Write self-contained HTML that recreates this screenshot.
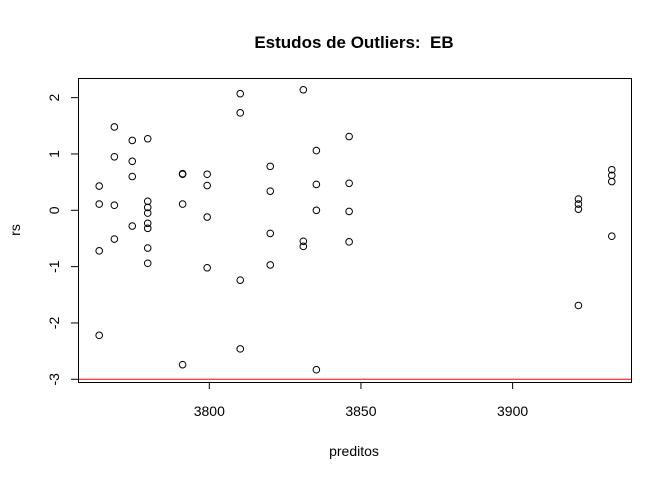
<!DOCTYPE html>
<html><head><meta charset="utf-8"><style>
body{margin:0;background:#fff;font-family:"Liberation Sans",sans-serif}
svg text{font-family:"Liberation Sans",sans-serif}
</style></head><body>
<svg id="chart" width="672" height="480">
<rect width="672" height="480" fill="#fff"/>
<text x="354" y="48" text-anchor="middle" font-weight="bold" font-size="17" style="white-space:pre">Estudos de Outliers:  EB</text>
<text x="354" y="456" text-anchor="middle" font-size="14">preditos</text>
<text x="20" y="230" text-anchor="middle" font-size="14" transform="rotate(-90 20 230)">rs</text>
<rect x="78.5" y="78.5" width="553" height="304" fill="none" stroke="#000"/>
<g id="xaxis"></g>
<g id="yaxis"></g>
<g id="marks"></g>
</svg>
<script>
const xTicks=[3800,3850,3900];
const yTicks=[-3,-2,-1,0,1,2];
const xVals=[3763.7,3763.7,3763.7,3763.7,3768.7,3768.7,3768.7,3768.7,3774.6,3774.6,3774.6,3774.6,3779.7,3779.7,3779.7,3779.7,3779.7,3779.7,3779.7,3779.7,3791.2,3791.2,3791.2,3791.2,3799.3,3799.3,3799.3,3799.3,3810.2,3810.2,3810.2,3810.2,3820.1,3820.1,3820.1,3820.1,3831,3831,3831,3835.3,3835.3,3835.3,3835.3,3846.1,3846.1,3846.1,3846.1,3921.7,3921.7,3921.7,3921.7,3932.7,3932.7,3932.7,3932.7];
const rsVals=[0.43,0.11,-0.72,-2.22,1.48,0.95,0.09,-0.51,1.24,0.87,0.60,-0.28,1.27,0.16,0.05,-0.05,-0.23,-0.32,-0.67,-0.94,0.65,0.64,0.11,-2.74,0.64,0.44,-0.12,-1.02,2.07,1.73,-1.24,-2.46,0.78,0.34,-0.41,-0.97,2.14,-0.55,-0.64,1.06,0.46,0,-2.83,1.31,0.48,-0.02,-0.56,0.2,0.11,0.02,-1.69,0.72,0.62,0.51,-0.46];
const NS='http://www.w3.org/2000/svg';
const X=v=>209.3+(v-3800)*3.033;
const Y=v=>210.3-v*56.33;
function mk(t,a,p){const e=document.createElementNS(NS,t);for(const k in a)e.setAttribute(k,a[k]);p.appendChild(e);return e;}
const xa=document.getElementById('xaxis'),ya=document.getElementById('yaxis'),mg=document.getElementById('marks');
mk('line',{x1:X(3800),x2:X(3900),y1:382.5,y2:382.5,stroke:'#000'},xa);
xTicks.forEach(t=>{
 const l=mk('line',{x1:X(t),x2:X(t),y1:382,y2:389,stroke:'#000'},xa);
 
 
 const tx=mk('text',{x:X(t),y:416,'text-anchor':'middle','font-size':14},xa);tx.textContent=t;
 
 
});
mk('line',{x1:78.5,x2:78.5,y1:Y(-3),y2:Y(2),stroke:'#000'},ya);
yTicks.forEach(t=>{
 const l=mk('line',{x1:71,x2:78,y1:Y(t),y2:Y(t),stroke:'#000'},ya);
 
 
 const tx=mk('text',{x:54,y:Y(t),'text-anchor':'middle','font-size':14,transform:`rotate(-90 54 ${Y(t)})`,'dominant-baseline':'central'},ya);tx.textContent=t;
 
 
});
const rl=mk('line',{x1:79,x2:631,y1:Y(-3),y2:Y(-3),stroke:'#f00','stroke-width':1},mg);


xVals.forEach((v,i)=>{
 const c=mk('circle',{cx:X(v),cy:Y(rsVals[i]),r:3.3,fill:'none',stroke:'#000'},mg);
 
 
});
</script>
</body></html>
